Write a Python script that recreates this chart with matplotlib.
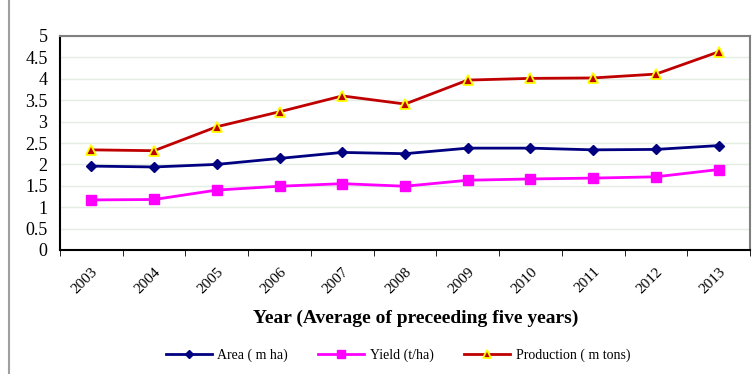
import matplotlib
matplotlib.use("Agg")
import matplotlib.pyplot as plt
from matplotlib.lines import Line2D
import numpy as np

years = ["2003", "2004", "2005", "2006", "2007", "2008", "2009", "2010", "2011", "2012", "2013"]
area = [1.96, 1.94, 2.00, 2.14, 2.28, 2.25, 2.38, 2.38, 2.34, 2.35, 2.44]
yield_t = [1.17, 1.18, 1.40, 1.49, 1.55, 1.49, 1.63, 1.66, 1.68, 1.71, 1.88]
production = [2.34, 2.32, 2.88, 3.23, 3.60, 3.41, 3.97, 4.01, 4.02, 4.11, 4.63]
yticks = [0, 0.5, 1, 1.5, 2, 2.5, 3, 3.5, 4, 4.5, 5]

plt.rcParams["font.family"] = ["Liberation Serif", "DejaVu Serif"]

fig = plt.figure(figsize=(7.53, 3.74), dpi=100)
ax = fig.add_axes([60 / 753, 1 - 250 / 374, 690 / 753, 214 / 374])

x = np.arange(len(years))
ax.plot(x, area, color="#000080", lw=2, marker="D", ms=5.5, mfc="#000080", mec="#000080",
        label="Area ( m ha)", zorder=3)
ax.plot(x, yield_t, color="#FF00FF", lw=2, marker="s", ms=7.5, mfc="#FF00FF", mec="#FF00FF",
        label="Yield (t/ha)", zorder=3)
ax.plot(x, production, color="#C00000", lw=2, marker="^", ms=7, mfc="#C00000", mec="#FFFF00",
        mew=1.3, label="Production ( m tons)", zorder=4)

ax.set_xlim(-0.5, len(years) - 0.5)
ax.set_ylim(0, 5)
ax.set_yticks(yticks)
ax.set_yticklabels([f"{v:g}" for v in yticks], fontsize=13)
ax.yaxis.grid(True, color="#E3EDE3", lw=1)
ax.set_axisbelow(True)

ax.set_xticks(x)
ax.set_xticklabels(years, rotation=45, fontsize=11, ha="right", rotation_mode="anchor")
ax.set_xticks(np.arange(-0.5, len(years)), minor=True)
ax.tick_params(axis="x", which="major", length=0, pad=11)
ax.tick_params(axis="x", which="minor", length=4, color="#000000", direction="out")
ax.tick_params(axis="y", length=0, pad=9)

ax.spines["left"].set_color("#000000")
ax.spines["left"].set_linewidth(1.5)
ax.spines["bottom"].set_color("#000000")
ax.spines["bottom"].set_linewidth(1.5)
ax.spines["top"].set_color("#808080")
ax.spines["top"].set_linewidth(1.5)
ax.spines["right"].set_color("#808080")
ax.spines["right"].set_linewidth(1.5)

ax.set_xlabel("Year (Average of preceeding five years)", fontsize=14, fontweight="bold")
ax.xaxis.set_label_coords((416 - 60) / 690, -(318 - 250) / 214)
ax.xaxis.label.set_va("center")

handles, labels = ax.get_legend_handles_labels()
fig.legend(handles, labels, loc="center", bbox_to_anchor=(398 / 753, 1 - 355 / 374),
           ncol=3, frameon=False, fontsize=10, handlelength=3.3, columnspacing=2.2,
           handletextpad=0.4, markerscale=0.8)

fig.add_artist(Line2D([9 / 753, 9 / 753], [0, 1], transform=fig.transFigure,
                      color="#A0A0A0", lw=1.5))

fig.savefig("out.png", dpi=100)
